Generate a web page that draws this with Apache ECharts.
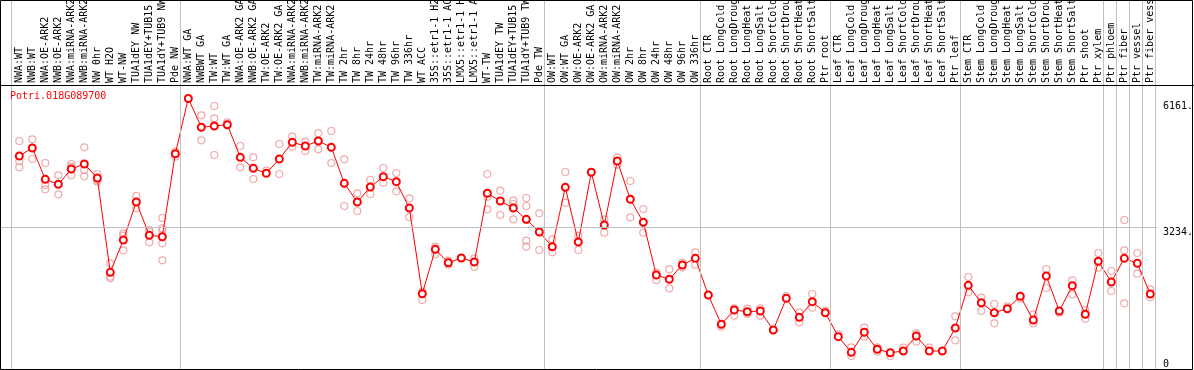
<!DOCTYPE html>
<html>
<head>
<meta charset="utf-8">
<script src="https://cdn.jsdelivr.net/npm/echarts@6/dist/echarts.min.js"></script>
<style>
html,body{margin:0;padding:0;background:#fff;}
#chart{width:1194px;height:370px;}
</style>
</head>
<body>
<div id="chart"></div>
<script>
const geneName = 'Potri.018G089700';

const categories = [
  'NWA:WT','NWB:WT','NWA:OE-ARK2','NWB:OE-ARK2','NWA:miRNA-ARK2','NWB:miRNA-ARK2','NW 0hr','WT H2O','WT-NW',
  'TUA1dEY NW','TUA1dEY+TUB15 NW','TUA1dY+TUB9 NW','Pde NW',
  'NWA:WT GA','NWBWT GA','TW:WT','TW:WT GA','NWA:OE-ARK2 GA','NWB:OE-ARK2 GA','TW:OE-ARK2','TW:OE-ARK2 GA',
  'NWA:miRNA-ARK2 GA','NWB:miRNA-ARK2 GA','TW:miRNA-ARK2','TW:miRNA-ARK2 GA',
  'TW 2hr','TW 8hr','TW 24hr','TW 48hr','TW 96hr','TW 336hr','WT ACC',
  '35S::etr1-1 H2O','35S::etr1-1 ACC','LMX5::etr1-1 H2O','LMX5::etr1-1 ACC',
  'WT-TW','TUA1dEY TW','TUA1dEY+TUB15 TW','TUA1dY+TUB9 TW','Pde TW',
  'OW:WT','OW:WT GA','OW:OE-ARK2','OW:OE-ARK2 GA','OW:miRNA-ARK2','OW:miRNA-ARK2 GA',
  'OW 2hr','OW 8hr','OW 24hr','OW 48hr','OW 96hr','OW 336hr',
  'Root CTR','Root LongCold','Root LongDrought','Root LongHeat','Root LongSalt',
  'Root ShortCold','Root ShortDrought','Root ShortHeat','Root ShortSalt','Ptr root',
  'Leaf CTR','Leaf LongCold','Leaf LongDrought','Leaf LongHeat','Leaf LongSalt',
  'Leaf ShortCold','Leaf ShortDrought','Leaf ShortHeat','Leaf ShortSalt','Ptr leaf',
  'Stem CTR','Stem LongCold','Stem LongDrought','Stem LongHeat','Stem LongSalt',
  'Stem ShortCold','Stem ShortDrought','Stem ShortHeat','Stem ShortSalt','Ptr shoot',
  'Ptr xylem','Ptr phloem','Ptr fiber','Ptr vessel','Ptr fiber vessel'
];

const meanValues = [
  4851,5033,4320,4207,4555,4669,4350,2202,2938,3803,3045,3013,4903,
  6161,5505,5534,5564,4821,4571,4457,4783,5163,5079,5193,5049,4229,3803,4145,4380,4266,3667,1715,
  2726,2421,2528,2437,4002,3826,3667,3409,3120,
  2785,4138,2892,4480,3280,4737,3865,3341,2141,2043,2369,2521,
  1685,1018,1344,1305,1321,888,1610,1177,1533,1282,
  736,380,836,449,371,410,752,410,410,934,
  1906,1510,1282,1373,1656,1116,2118,1321,1897,1246,2453,
  1981,2521,2407,1708
];

const replicateValues = [
  [5193,4737,4594],[5231,4783],[4692,4191,4093],[4412,3979],[4669,4607,4412],[5049,4532,4389],
  [4441,4304,4266],[2407,2102,2066],[3091,3036,2703],[3940,3660],[3166,3127,2886],
  [3439,3204,3150,2863,2476],[4949,4835],
  [6161],[5778,5209],[5990,5710,4874],[5619],[5079,4594],[4821,4327],[4516],[5124,4441],
  [5291,5063],[5177,4965],[5368,5004],[5420,4692],[4776,3712],[4002,3598],[4304,3986],
  [4578,4243],[4464,4047],[3888,3462],[1760,1571],[2785,2612],[2467,2375],[2528],[2521,2330],
  [4441,3924,3637],[4061,3507],[3833,3758,3409],[3895,3712,3393,2922,2785],[3546,2710],
  [2954,2658],[4487,3788],[3036,2710],[4480],[3409,3104],[4812,4653],[4282,3455],[3644,3104],
  [2193,2027],[2271,1838],[2421,2316],[2658,2375],
  [1685],[963],[1382,1214],[1373,1253],[1382,1214],[888],[1663],[1282,1064],[1708,1396],[1328],
  [790],[494,296],[941,736],[494,394],[296],[485],[813,622],[485],[410],[1200,654],
  [2095,1747],[1624,1321],[1480,1041],[1428],[1601],[1246,1041],[2278,1845],[1282],[2020,1701],
  [1344,1146],[2642,2307],
  [2232,1776],[3393,2703,1496],[2642,2170],[1815,1633]
];

// first category index of each group (dividers drawn just before these), plus the end
const groupStarts = [0,13,41,53,63,73,84,85,86,87,88];

const tickValues = [0, 3234, 6161];
const tickLabels = ['0', '3234.', '6161.'];
const yAxisTop = 8404;

const FONT = 'DejaVu Sans Mono';
const catIdx = categories.map((c, i) => i);

const meanData = meanValues.map((v, i) => [i, v]);
const repData = [];
replicateValues.forEach((arr, i) => arr.forEach(v => repData.push([i, v])));

const dividerLines = groupStarts.map(g => ({ xAxis: g === 0 ? -0.65 : (g === 88 ? 87.36 : g - 0.62) }));

function yLabelAxis(values, vAlign, pad) {
  return {
    type: 'value', min: 0, max: yAxisTop, position: 'right',
    axisLine: { show: false }, axisTick: { show: false }, splitLine: { show: false },
    axisLabel: {
      customValues: values, margin: 6, verticalAlign: vAlign, align: 'left',
      padding: pad, color: '#000', fontFamily: FONT, fontSize: 10,
      formatter: v => tickLabels[tickValues.indexOf(v)]
    }
  };
}

const chart = echarts.init(document.getElementById('chart'), null, { renderer: 'canvas' });
chart.setOption({
  animation: false,
  backgroundColor: '#ffffff',
  title: {
    text: geneName,
    left: 10,
    top: 91,
    padding: 0,
    textStyle: { color: '#ff0000', fontFamily: FONT, fontSize: 10, fontWeight: 'normal' }
  },
  grid: { left: 1, right: 37, top: 0, bottom: 1, containLabel: false, outerBoundsMode: 'none' },
  xAxis: [{
    type: 'value',
    min: -1.408,
    max: 87.516,
    position: 'top',
    offset: -85,
    axisLine: { show: false },
    axisTick: { show: false },
    splitLine: { show: false },
    axisLabel: {
      customValues: catIdx,
      rotate: 90,
      margin: 2,
      color: '#000',
      fontFamily: FONT,
      fontSize: 10,
      hideOverlap: false,
      formatter: v => categories[Math.round(v)]
    }
  }],
  yAxis: [
    yLabelAxis([tickValues[1]], 'top', 0),
    yLabelAxis([tickValues[2]], 'top', [3, 0, 0, 0]),
    yLabelAxis([tickValues[0]], 'bottom', 0)
  ],
  series: [{
    type: 'scatter',
    data: repData,
    symbol: 'circle',
    symbolSize: 7,
    itemStyle: { color: 'rgba(0,0,0,0)', borderColor: '#ee9494', borderWidth: 1.2 },
    z: 2,
    silent: true,
    markLine: {
      silent: true, symbol: 'none', label: { show: false },
      lineStyle: { color: '#c0c0c0', width: 1, type: 'solid' },
      data: dividerLines.concat([{ yAxis: tickValues[1] }])
    }
  }, {
    type: 'line',
    data: meanData,
    symbol: 'emptyCircle',
    symbolSize: 7,
    lineStyle: { color: '#ff0000', width: 1 },
    itemStyle: { color: '#ff0000', borderColor: '#ff0000', borderWidth: 1.3 },
    z: 3,
    silent: true
  }],
  graphic: [{
    type: 'rect',
    shape: { x: 0.5, y: 0.5, width: 1192, height: 369 },
    style: { fill: null, stroke: '#000', lineWidth: 1 },
    z: 100, silent: true
  }, {
    type: 'line',
    shape: { x1: 0, y1: 85.5, x2: 1194, y2: 85.5 },
    style: { stroke: '#000', lineWidth: 1 },
    z: 100, silent: true
  }]
});
</script>
</body>
</html>
